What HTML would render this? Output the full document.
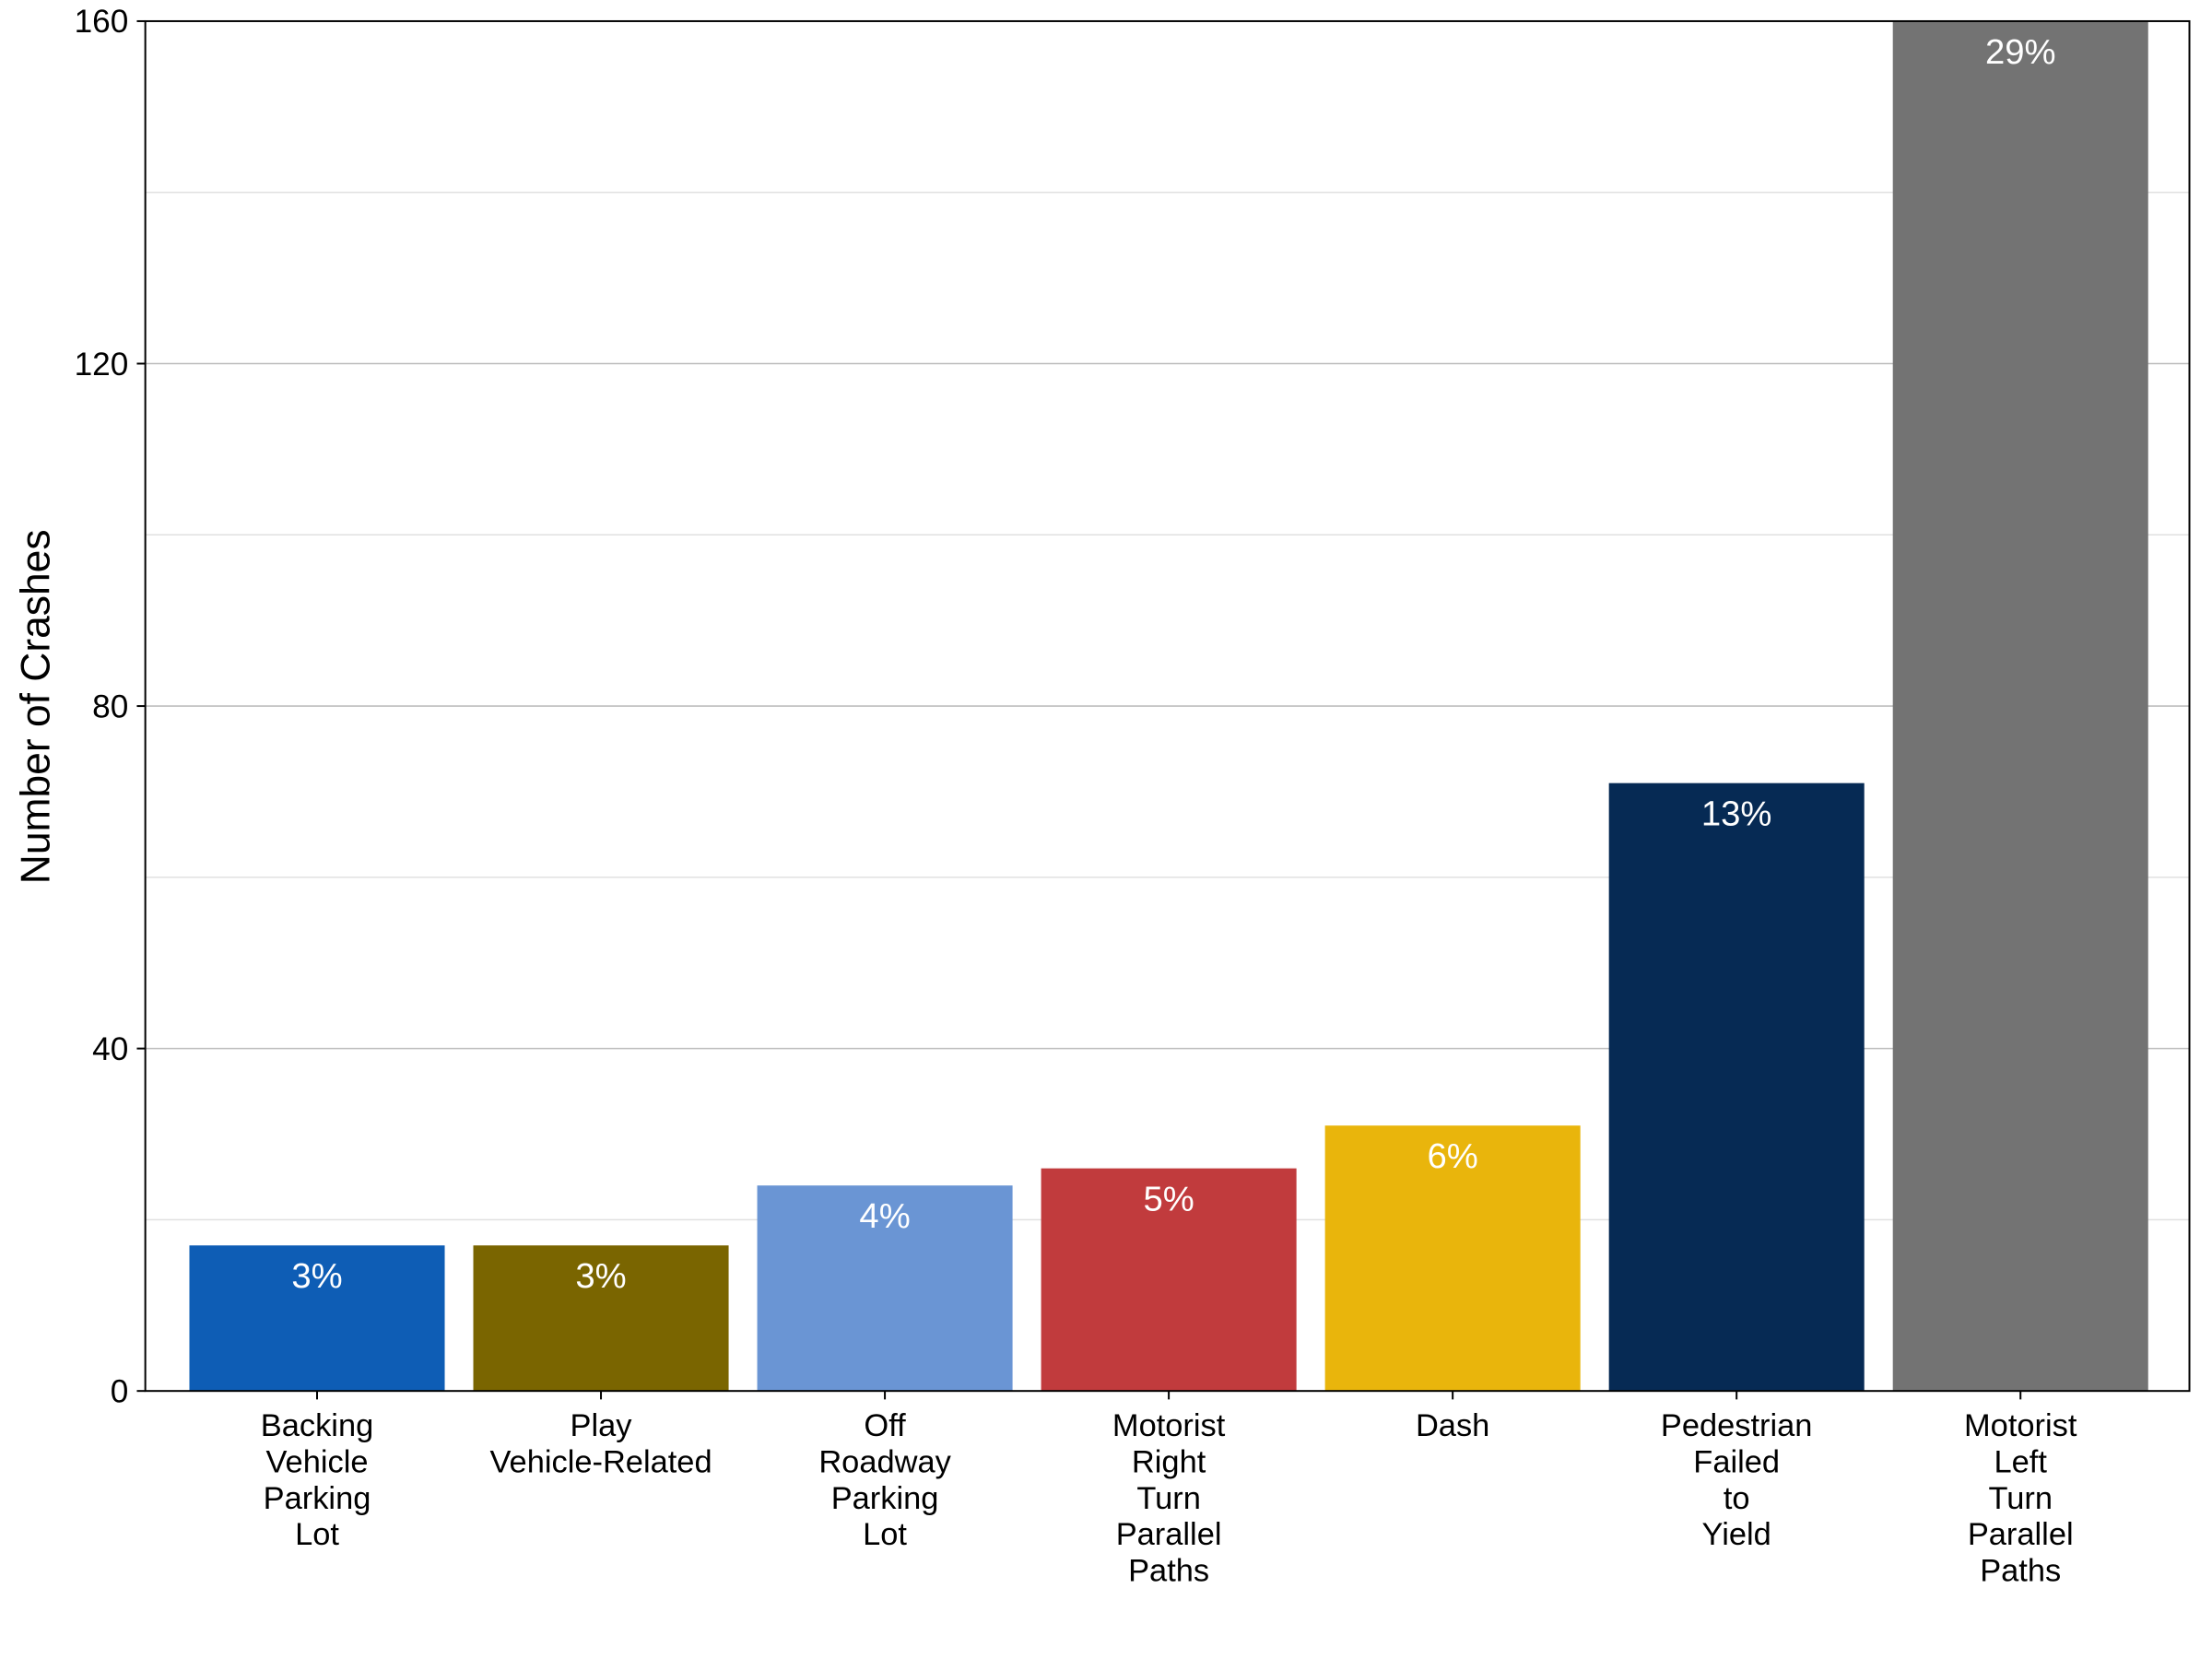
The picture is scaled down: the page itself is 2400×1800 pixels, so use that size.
<!DOCTYPE html>
<html><head><meta charset="utf-8"><style>
html,body{margin:0;padding:0;background:#fff;}
svg{display:block;font-family:"Liberation Sans",Arial,sans-serif;}
</style></head><body>
<svg id="chart" width="2400" height="1800" viewBox="0 0 1568 1176" xmlns="http://www.w3.org/2000/svg">
<g id="grid"></g>
<g id="bars"></g>
<g id="axes"></g>
<text transform="translate(35,501) rotate(-90)" text-anchor="middle" font-size="29" fill="#000">Number of Crashes</text>
</svg>
<script>
const categories = [["Backing","Vehicle","Parking","Lot"],["Play","Vehicle-Related"],["Off","Roadway","Parking","Lot"],["Motorist","Right","Turn","Parallel","Paths"],["Dash"],["Pedestrian","Failed","to","Yield"],["Motorist","Left","Turn","Parallel","Paths"]];
const values = [17, 17, 24, 26, 31, 71, 160];
const pctLabels = ["3%","3%","4%","5%","6%","13%","29%"];
const colors = ["#0e5db5","#7a6500","#6a95d4","#c13b3d","#e9b50c","#062a54","#737373"];
const yTicks = [0, 40, 80, 120, 160];
const yMinor = [20, 60, 100, 140];

const L=103, R=1552, T=15, B=986, yMax=160;
const NS="http://www.w3.org/2000/svg";
function y(v){return B-(v/yMax)*(B-T);}
const slot=(R-L)/7.2;
function xc(i){return L+1+slot*(0.6+i);}
const bw=181;
function mk(tag,attrs,parent){const e=document.createElementNS(NS,tag);for(const k in attrs)e.setAttribute(k,attrs[k]);parent.appendChild(e);return e;}
const grid=document.getElementById('grid'),bars=document.getElementById('bars'),axes=document.getElementById('axes');
yMinor.forEach(v=>{const l=mk('line',{x1:L,x2:R,y1:y(v),y2:y(v),stroke:'#e0e0e0','stroke-width':1},grid);

});
yTicks.forEach(v=>{if(v===0||v===yMax)return;const l=mk('line',{x1:L,x2:R,y1:y(v),y2:y(v),stroke:'#bdbdbd','stroke-width':1},grid);

});
values.forEach((v,i)=>{
 const r=mk('rect',{x:xc(i)-bw/2,y:y(v),width:bw,height:B-y(v),fill:colors[i]},bars);
 
 
 const t=mk('text',{x:xc(i),y:y(v)+30,'text-anchor':'middle','font-size':25,fill:'#fff'},bars);
 t.textContent=pctLabels[i];
 
 
 const tk=mk('line',{x1:xc(i),x2:xc(i),y1:B,y2:B+6,stroke:'#000','stroke-width':1.3},axes);
 
 
 categories[i].forEach((w,j)=>{
  const lt=mk('text',{x:xc(i),y:1018+j*25.7,'text-anchor':'middle','font-size':22.5,fill:'#000'},axes);
  lt.textContent=w;
  
  
 });
});
yTicks.forEach(v=>{
 const tk=mk('line',{x1:L-6,x2:L,y1:y(v),y2:y(v),stroke:'#000','stroke-width':1.3},axes);
 
 
 const t=mk('text',{x:L-12,y:y(v)+8,'text-anchor':'end','font-size':23,fill:'#000'},axes);
 t.textContent=v;
 
 
});
const fr=mk('rect',{x:L,y:T,width:R-L,height:B-T,fill:'none',stroke:'#000','stroke-width':1.3},axes);


</script>
</body></html>
